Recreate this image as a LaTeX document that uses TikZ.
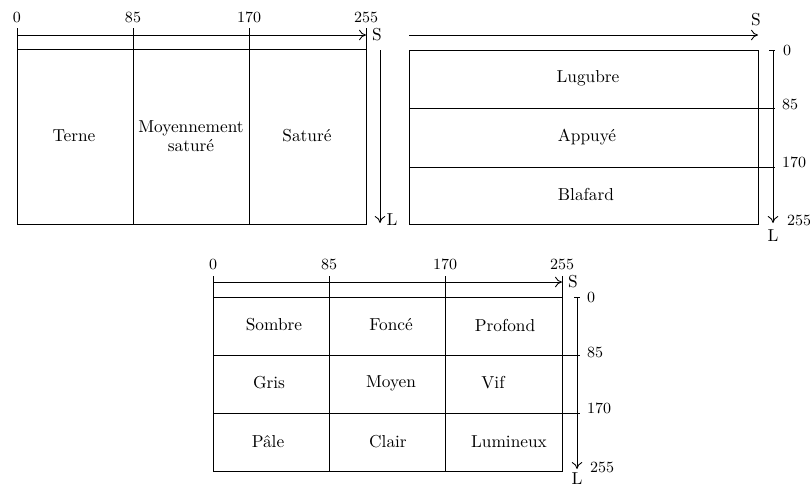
\documentclass[tikz,border=0pt]{standalone}
\usepackage{fontspec}
\usetikzlibrary{arrows.meta}
\begin{document}
\begin{tikzpicture}[x=0.578pt,y=-0.578pt,
  ln/.style={line width=0.5pt},
  axis/.style={line width=0.5pt,-{To[length=4pt,width=6pt]}},
  tick/.style={font=\small,inner sep=0pt},
  axlbl/.style={inner sep=0pt},
  cell/.style={inner sep=0pt,align=center}]
\useasboundingbox (0,0) rectangle (810,487);

% ===== Panel A (top left) =====
\foreach \x/\v/\n in {17/0/a0,133/85/a1,249/170/a2,366/255/a3}{
  \node[tick] (\n) at (\x,17) {\v};
  \draw[ln] (\x,28) -- (\x,224);
}
\coordinate (aS0) at (17,35);
\coordinate (aS1) at (366,35);
\draw[axis] (aS0) -- (aS1);
\node[axlbl] (aS) at (377,35) {S};
\draw[ln] (17,49) rectangle (366,224);
\coordinate (aL0) at (380,50);
\coordinate (aL1) at (380,223);
\draw[axis] (aL0) -- (aL1);
\node[axlbl] (aL) at (392,220) {L};
\node[cell] (terne) at (74,136) {Terne};
\node[cell] (moy) at (191,136) {Moyennement\\[-1pt]saturé};
\node[cell] (sat) at (307,136) {Saturé};

% ===== Panel B (top right) =====
\coordinate (bS0) at (409,35);
\coordinate (bS1) at (758,35);
\draw[axis] (bS0) -- (bS1);
\node[axlbl] (bS) at (756,20) {S};
\draw[ln] (409,50) rectangle (758,224);
\draw[ln] (409,108) -- (775,108);
\draw[ln] (409,167) -- (775,167);
\draw[ln] (769,50) -- (775,50);
\coordinate (bL0) at (773,50);
\coordinate (bL1) at (773,223);
\draw[axis] (bL0) -- (bL1);
\node[tick] (b0) at (787,50) {0};
\node[tick] (b1) at (790,104) {85};
\node[tick] (b2) at (794,162) {170};
\node[tick] (b3) at (799,220) {255};
\node[axlbl] (bL) at (773,236) {L};
\node[cell] (lug) at (588,78) {Lugubre};
\node[cell] (app) at (587,137) {Appuyé};
\node[cell] (bla) at (586,194) {Blafard};

% ===== Panel C (bottom) =====
\foreach \x/\v/\n in {213/0/c0,329/85/c1,445/170/c2,562/255/c3}{
  \node[tick] (\n) at (\x,264) {\v};
  \draw[ln] (\x,276) -- (\x,471);
}
\coordinate (cS0) at (213,282);
\coordinate (cS1) at (562,282);
\draw[axis] (cS0) -- (cS1);
\node[axlbl] (cS) at (573,282) {S};
\draw[ln] (213,297) rectangle (562,471);
\draw[ln] (213,355) -- (580,355);
\draw[ln] (213,413) -- (580,413);
\draw[ln] (574,297) -- (580,297);
\coordinate (cL0) at (577,297);
\coordinate (cL1) at (577,469);
\draw[axis] (cL0) -- (cL1);
\node[tick] (cr0) at (591,297) {0};
\node[tick] (cr1) at (595,352) {85};
\node[tick] (cr2) at (599,408) {170};
\node[tick] (cr3) at (602,467) {255};
\node[axlbl] (cL) at (577,479) {L};
\node[cell] (sombre) at (274,325) {Sombre};
\node[cell] (fonce) at (391,325) {Foncé};
\node[cell] (profond) at (505,325) {Profond};
\node[cell] (gris) at (269,383) {Gris};
\node[cell] (moyen) at (391,383) {Moyen};
\node[cell] (vif) at (493,383) {Vif};
\node[cell] (pale) at (268,442) {Pâle};
\node[cell] (clair) at (388,442) {Clair};
\node[cell] (lum) at (509,442) {Lumineux};
\end{tikzpicture}
\end{document}
